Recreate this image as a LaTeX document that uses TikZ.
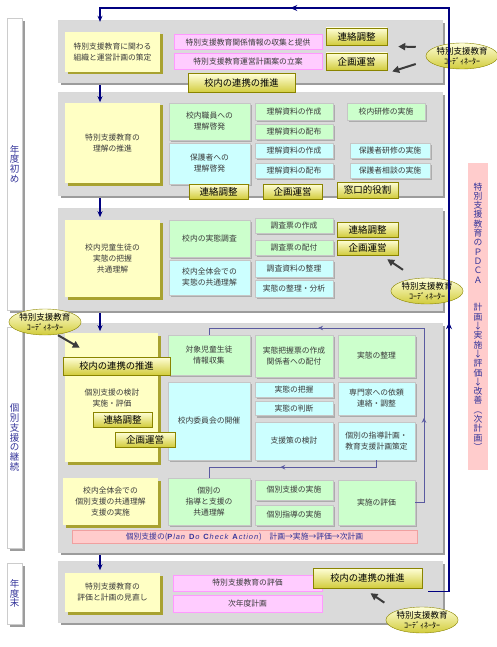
\documentclass[tikz,border=0pt]{standalone}
\usepackage{fontspec}
\setmainfont{Noto Sans CJK JP}
\newfontfamily\latinfont{Liberation Sans}[LetterSpace=12]
\usetikzlibrary{arrows.meta,shapes.geometric,shadows,decorations.markings}

\definecolor{panelgray}{HTML}{DADADA}
\definecolor{panelshadow}{HTML}{9C9C9C}
\definecolor{paleyellow}{HTML}{FFFFC4}
\definecolor{yellowshadow}{HTML}{A8A230}
\definecolor{palegreen}{HTML}{CCFFCC}
\definecolor{palecyan}{HTML}{CCFFFF}
\definecolor{palepink}{HTML}{FFCCFF}
\definecolor{pinkline}{HTML}{FF99FF}
\definecolor{rosebar}{HTML}{FFCCCC}
\definecolor{roseline}{HTML}{F0A0A0}
\definecolor{btntop}{HTML}{FFFFD8}
\definecolor{btnbottom}{HTML}{D2CC3C}
\definecolor{btnline}{HTML}{8A8400}
\definecolor{loopnavy}{HTML}{000080}
\definecolor{flowblue}{HTML}{5A5AA0}
\definecolor{labelblue}{HTML}{333399}
\definecolor{textgray}{HTML}{3A3A3A}
\definecolor{arrowgray}{HTML}{3C3C3C}

\tikzset{
  every node/.style={inner sep=1pt, text=textgray},
  panel/.style={fill=panelgray, draw=white!70!gray, minimum width=384pt,
    drop shadow={shadow xshift=3pt, shadow yshift=-3pt, fill=panelshadow, opacity=1}},
  sidebar/.style={fill=white, draw=gray!40, minimum width=15pt, text=labelblue,
    align=center, font=\fontsize{9.5}{9.8}\selectfont,
    drop shadow={shadow xshift=3pt, shadow yshift=-3pt, fill=panelshadow, opacity=1}},
  stage/.style={fill=paleyellow, align=center, font=\fontsize{7.8}{11}\selectfont,
    drop shadow={shadow xshift=2.5pt, shadow yshift=-2.5pt, fill=yellowshadow, opacity=1}},
  task/.style={draw=gray!45, align=center, font=\fontsize{7.8}{11}\selectfont,
    drop shadow={shadow xshift=2pt, shadow yshift=-2pt, fill=gray!65, opacity=1}},
  staff/.style={task, fill=palegreen},
  parent/.style={task, fill=palecyan},
  plan/.style={fill=palepink, draw=pinkline, line width=1pt, font=\fontsize{7.8}{11}\selectfont},
  role/.style={top color=btntop, bottom color=btnbottom, draw=btnline, text=black,
    font=\fontsize{9.5}{11}\selectfont},
  link/.style={role, font=\fontsize{9.3}{11}\selectfont, minimum width=107pt, minimum height=19pt},
  coord/.style={ellipse, top color=btntop, bottom color=btnbottom, draw=btnline,
    minimum width=61pt, minimum height=26pt, inner sep=0pt, align=center, text=black,
    font=\fontsize{8.5}{9.5}\selectfont},
  push/.style={draw=arrowgray, line width=2pt, -{Triangle[length=7pt,width=7pt]}},
  yearflow/.style={draw=loopnavy, line width=1.3pt, -{Stealth[length=6pt,width=5pt]}},
  flowline/.style={draw=flowblue, line width=0.8pt}
}

\begin{document}
\begin{tikzpicture}[x=1pt,y=-1pt]
  \fill[white] (0,0) rectangle (497,647);
  \useasboundingbox (0,0) rectangle (497,647);

  % side bars
  \node[sidebar, minimum height=292pt] (early) at (14.5,164) {年\\度\\初\\め};
  \node[sidebar, minimum height=221pt] (ongoing) at (14.5,437.5) {個\\別\\支\\援\\の\\継\\続};
  \node[sidebar, minimum height=61pt] (late) at (14.5,593.5) {年\\度\\末};

  % panels
  \node[panel, minimum height=62pt] (p1) at (250,51) {};
  \node[panel, minimum height=103pt] (p2) at (250,143.5) {};
  \node[panel, minimum height=102pt] (p3) at (250,259) {};
  \node[panel, minimum height=229pt] (p4) at (250,437.5) {};
  \node[panel, minimum height=61pt] (p5) at (250,591.5) {};

  % PDCA
  \node[fill=rosebar, minimum width=20pt, minimum height=307pt, text=labelblue, align=center,
    font=\fontsize{8.8}{9.3}\selectfont] (pdca) at (478,316.5)
    {特\\別\\支\\援\\教\\育\\の\\Ｐ\\Ｄ\\Ｃ\\Ａ\\[18.6pt]計\\画\\↓\\実\\施\\↓\\評\\価\\↓\\改\\善\\︵\\次\\計\\画\\︶};

  % panel 1
  \node[stage, minimum width=95pt, minimum height=40pt] (s1) at (112.5,52) {特別支援教育に関わる\\組織と運営計画の策定};
  \node[plan, minimum width=148pt, minimum height=15pt] (s1a) at (248,42.5) {特別支援教育関係情報の収集と提供};
  \node[plan, minimum width=148pt, minimum height=16pt] (s1b) at (248,62) {特別支援教育運営計画案の立案};
  \node[role, minimum width=61pt, minimum height=17pt] (r1a) at (356.5,36.5) {連絡調整};
  \node[role, minimum width=61pt, minimum height=17pt] (r1b) at (356.5,61.5) {企画運営};
  \node[link] (l1) at (241.5,83) {校内の連携の推進};
  \node[coord] (c1) at (462,56) {特別支援教育\\{\fontsize{8}{8}\selectfont ｺｰﾃﾞｨﾈｰﾀｰ}};
  \draw[push] ([xshift=-10pt,yshift=9pt]c1.west) -- ([xshift=11pt,yshift=-10pt]r1a.east);
  \draw[push] ([xshift=-10pt,yshift=-8pt]c1.west) -- ([xshift=5pt,yshift=-10pt]r1b.east);

  % panel 2
  \node[stage, minimum width=95pt, minimum height=80pt] (s2) at (112.5,143) {特別支援教育の\\理解の推進};
  \node[staff, minimum width=81pt, minimum height=37pt] (t2a) at (209.5,121.5) {校内職員への\\理解啓発};
  \node[parent, minimum width=81pt, minimum height=41pt] (t2b) at (209.5,163.5) {保護者への\\理解啓発};
  \node[staff, minimum width=78pt, minimum height=17pt] (t2c) at (294,111.5) {理解資料の作成};
  \node[staff, minimum width=78pt, minimum height=15pt] (t2d) at (294,131.5) {理解資料の配布};
  \node[staff, minimum width=78pt, minimum height=17pt] (t2e) at (386,111.5) {校内研修の実施};
  \node[parent, minimum width=78pt, minimum height=15pt] (t2f) at (294,150.5) {理解資料の作成};
  \node[parent, minimum width=78pt, minimum height=15pt] (t2g) at (294,170.5) {理解資料の配布};
  \node[parent, minimum width=80pt, minimum height=15pt] (t2h) at (390,150.5) {保護者研修の実施};
  \node[parent, minimum width=80pt, minimum height=15pt] (t2i) at (390,170.5) {保護者相談の実施};
  \node[role, minimum width=59pt, minimum height=15pt] (r2a) at (218.5,191.5) {連絡調整};
  \node[role, minimum width=59pt, minimum height=15pt] (r2b) at (292.5,191.5) {企画運営};
  \node[role, minimum width=61pt, minimum height=16pt] (r2c) at (367.5,190) {窓口的役割};

  % panel 3
  \node[stage, minimum width=95pt, minimum height=77pt] (s3) at (112.5,258.5) {校内児童生徒の\\実態の把握\\共通理解};
  \node[staff, minimum width=81pt, minimum height=37pt] (t3a) at (209.5,238.5) {校内の実態調査};
  \node[parent, minimum width=81pt, minimum height=35pt] (t3b) at (209.5,277.5) {校内全体会での\\実態の共通理解};
  \node[staff, minimum width=78pt, minimum height=15pt] (t3c) at (294,225.5) {調査票の作成};
  \node[staff, minimum width=78pt, minimum height=15pt] (t3d) at (294,247.5) {調査票の配付};
  \node[parent, minimum width=78pt, minimum height=17pt] (t3e) at (294,268.5) {調査資料の整理};
  \node[parent, minimum width=78pt, minimum height=17pt] (t3f) at (294,288.5) {実態の整理・分析};
  \node[role, minimum width=61pt, minimum height=15pt] (r3a) at (367.5,229.5) {連絡調整};
  \node[role, minimum width=61pt, minimum height=15pt] (r3b) at (367.5,247.5) {企画運営};
  \node[coord, minimum width=62pt] (c3) at (427,291) {特別支援教育\\{\fontsize{8}{8}\selectfont ｺｰﾃﾞｨﾈｰﾀｰ}};
  \draw[push] ([xshift=-24pt,yshift=8pt]c3.north) -- ([xshift=-11pt,yshift=-4pt]r3b.south east);

  % panel 4
  \node[stage, minimum width=93pt, minimum height=129pt] (s4) at (111.5,397.5) {};
  \node[align=center, font=\fontsize{7.8}{11}\selectfont] (s4t) at (112,398) {個別支援の検討\\実施・評価};
  \node[staff, minimum width=82pt, minimum height=40pt] (t4a) at (209,355) {対象児童生徒\\情報収集};
  \node[parent, minimum width=82pt, minimum height=78pt] (t4b) at (209,421) {校内委員会の開催};
  \node[staff, minimum width=78pt, minimum height=42pt] (t4c) at (294,356) {実態把握票の作成\\関係者への配付};
  \node[staff, minimum width=77pt, minimum height=42pt] (t4d) at (376.5,356) {実態の整理};
  \node[parent, minimum width=78pt, minimum height=15pt] (t4e) at (294,389.5) {実態の把握};
  \node[parent, minimum width=78pt, minimum height=14pt] (t4f) at (294,408.5) {実態の判断};
  \node[parent, minimum width=77pt, minimum height=33pt] (t4g) at (376.5,398.5) {専門家への依頼\\連絡・調整};
  \node[parent, minimum width=78pt, minimum height=38pt] (t4h) at (294,441) {支援策の検討};
  \node[parent, minimum width=77pt, minimum height=38pt] (t4i) at (376.5,441) {個別の指導計画・\\教育支援計画策定};
  \node[stage, minimum width=95pt, minimum height=47pt] (s4b) at (110.5,501.5) {校内全体会での\\個別支援の共通理解\\支援の実施};
  \node[staff, minimum width=82pt, minimum height=47pt] (t4j) at (209,501.5) {個別の\\指導と支援の\\共通理解};
  \node[staff, minimum width=78pt, minimum height=20pt] (t4k) at (294,490) {個別支援の実施};
  \node[staff, minimum width=78pt, minimum height=20pt] (t4l) at (294,515) {個別指導の実施};
  \node[staff, minimum width=77pt, minimum height=45pt] (t4m) at (376.5,502.5) {実施の評価};
  \node[link, minimum height=18pt] (l4) at (116.5,366) {校内の連携の推進};
  \node[role, minimum width=59pt, minimum height=15pt] (r4a) at (122.5,419.5) {連絡調整};
  \node[role, minimum width=60pt, minimum height=15pt] (r4b) at (145,439.5) {企画運営};
  \node[fill=rosebar, draw=roseline, minimum width=345pt, minimum height=13pt, text=labelblue,
    font=\fontsize{7.8}{9}\selectfont] (pdcabar) at (244.5,536.5)
    {個別支援の({\latinfont\fontsize{7.5}{9}\selectfont\textbf{P}\textit{lan} \textbf{D}\textit{o} \textbf{C}\textit{heck} \textbf{A}\textit{ction}})\quad 計画→実施→評価→次計画};
  \node[coord, minimum width=64pt] (c4) at (45,322) {特別支援教育\\{\fontsize{8}{8}\selectfont ｺｰﾃﾞｨﾈｰﾀｰ}};
  \draw[push] ([xshift=13pt]c4.south) -- ([xshift=17pt,yshift=9pt]l4.north west);

  % support cycle
  \coordinate (looptop) at (424,328);
  \draw[flowline, decoration={markings,
      mark=at position 0.231 with {\arrow{Stealth[length=5pt,width=4.5pt]}},
      mark=at position 0.714 with {\arrow{Stealth[length=5pt,width=4.5pt]}}},
    postaction={decorate}]
    (t4m.east) -| (looptop) -- (t4a.north |- looptop) -- (t4a.north);
  \draw[flowline, decoration={markings,
      mark=at position 0.558 with {\arrow{Stealth[length=5pt,width=4.5pt]}}},
    postaction={decorate}]
    (t4i.south) -- ++(0,7) -| (t4j.north);

  % panel 5
  \node[stage, minimum width=95pt, minimum height=39pt] (s5) at (112.5,592.5) {特別支援教育の\\評価と計画の見直し};
  \node[plan, minimum width=149pt, minimum height=16pt] (s5a) at (247.5,583) {特別支援教育の評価};
  \node[plan, minimum width=149pt, minimum height=17pt] (s5b) at (247.5,603.5) {次年度計画};
  \node[link, minimum width=109pt, minimum height=20pt] (l5) at (367.5,578) {校内の連携の推進};
  \node[coord] (c5) at (422,620) {特別支援教育\\{\fontsize{8}{8}\selectfont ｺｰﾃﾞｨﾈｰﾀｰ}};
  \draw[push] ([xshift=-12pt,yshift=8pt]c5.north west) -- ([xshift=3pt,yshift=-5pt]l5.south);

  % yearly loop
  \coordinate (railtop) at (449,8);
  \coordinate (axis) at (100,8);
  \draw[yearflow, decoration={markings,
      mark=at position 0.300 with {\arrow{Stealth[length=7pt,width=6pt]}},
      mark=at position 0.789 with {\arrow{Stealth[length=7pt,width=6pt]}}},
    postaction={decorate}]
    ([xshift=-14pt]p5.east) -- (p5.east -| railtop) -- (railtop) -- (axis) -- ([yshift=-2pt]p1.north -| axis);
  \draw[yearflow] (p1.south -| axis) ++(0,3) -- ++(0,17);
  \draw[yearflow] (p2.south -| axis) ++(0,3) -- ++(0,19);
  \draw[yearflow] (p3.south -| axis) ++(0,3) -- ++(0,18);
  \draw[yearflow] (p4.south -| axis) ++(0,3) -- ++(0,15);
\end{tikzpicture}
\end{document}
